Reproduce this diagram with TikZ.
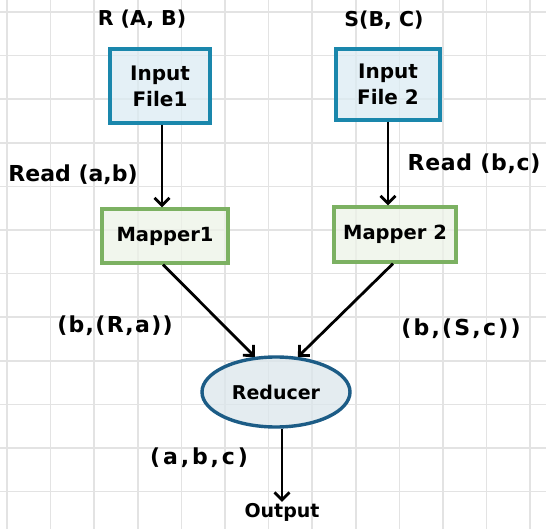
\documentclass[tikz,border=0pt]{standalone}
\usepackage{fontspec}
\setmainfont{DejaVu Sans}
\usetikzlibrary{arrows.meta,shapes.geometric}

\definecolor{gridline}{HTML}{E3E3E3}
\definecolor{inborder}{HTML}{1A87AC}
\definecolor{infill}{HTML}{DCECF3}
\definecolor{mapborder}{HTML}{7CB162}
\definecolor{mapfill}{HTML}{EDF3E8}
\definecolor{redborder}{HTML}{1C5C86}
\definecolor{redfill}{HTML}{DCE6EC}

\newcommand{\spaced}[2]{{\addfontfeature{LetterSpace=#1}#2}}

\tikzset{
  inputbox/.style={draw=inborder, fill=infill, fill opacity=0.75, text opacity=1,
    line width=3.2pt, rectangle, align=center, font=\bfseries\fontsize{20}{26}\selectfont},
  mapbox/.style={draw=mapborder, fill=mapfill, fill opacity=0.75, text opacity=1,
    line width=3.2pt, rectangle, font=\bfseries\fontsize{19.5}{23}\selectfont},
  redbox/.style={draw=redborder, fill=redfill, fill opacity=0.75, text opacity=1,
    line width=3.4pt, ellipse, inner sep=0pt, font=\bfseries\fontsize{19}{22}\selectfont},
  flow/.style={draw=black, line width=2.8pt, -{Straight Barb[length=7.5pt,width=15pt,line width=2.8pt]}},
  tag/.style={font=\bfseries\fontsize{22}{26}\selectfont, inner sep=0pt},
}

\begin{document}
\begin{tikzpicture}[x=1pt, y=-1pt]
  \useasboundingbox (0,0) rectangle (546,529);
  \fill[white] (0,0) rectangle (546,529);

  % squared paper
  \foreach \k in {0,...,12}
    \draw[gridline, line width=1.6pt] ({7+43.6*\k},0) -- ({7+43.6*\k},529);
  \foreach \k in {0,...,11}
    \draw[gridline, line width=1.6pt] (0,{12+43.6*\k}) -- (546,{12+43.6*\k});

  % inputs, mappers, reducer
  \node[inputbox, minimum width=100pt, minimum height=74pt] (in1) at (160,86) {Input\\File1};
  \node[inputbox, minimum width=104pt, minimum height=71pt] (in2) at (388,84.5) {Input\\File 2};
  \node[mapbox, minimum width=126pt, minimum height=54pt] (m1) at (165,236) {Mapper1};
  \node[mapbox, minimum width=122pt, minimum height=55pt] (m2) at (395,234.5) {Mapper 2};
  \node[redbox, minimum width=148pt, minimum height=70pt] (red) at (276,392) {Reducer};
  \node[font=\bfseries\fontsize{19}{22}\selectfont, inner sep=1pt] (out) at (282,512) {Output};

  % relation names
  \node[tag, font=\bfseries\fontsize{20.5}{24}\selectfont] (rname) at (142,19) {R (A, B)};
  \node[tag, font=\bfseries\fontsize{20.5}{24}\selectfont] (sname) at (384,20) {S(B, C)};

  % data flow
  \draw[flow] (in1.south -| 162,0) -- (162,0 |- m1.north);
  \draw[flow] (in2.south) -- (in2.south |- m2.north);
  \draw[flow] (m1.south -| 163,0) -- (red.121);
  \draw[flow] (m2.south -| 393,0) -- (red.58);
  \draw[flow] (red.south -| out.north) -- (out.north);

  % edge labels
  \node[tag] (l1) at (73,175) {Read (a,b)};
  \node[tag] (l2) at (474,164) {\spaced{3}{Read (b,c)}};
  \node[tag] (l3) at (115,326) {\spaced{6}{(b,(R,a))}};
  \node[tag] (l4) at (461,329) {\spaced{10}{(b,(S,c))}};
  \node[tag] (l5) at (199,458) {\spaced{13}{(a,b,c)}};
\end{tikzpicture}
\end{document}
